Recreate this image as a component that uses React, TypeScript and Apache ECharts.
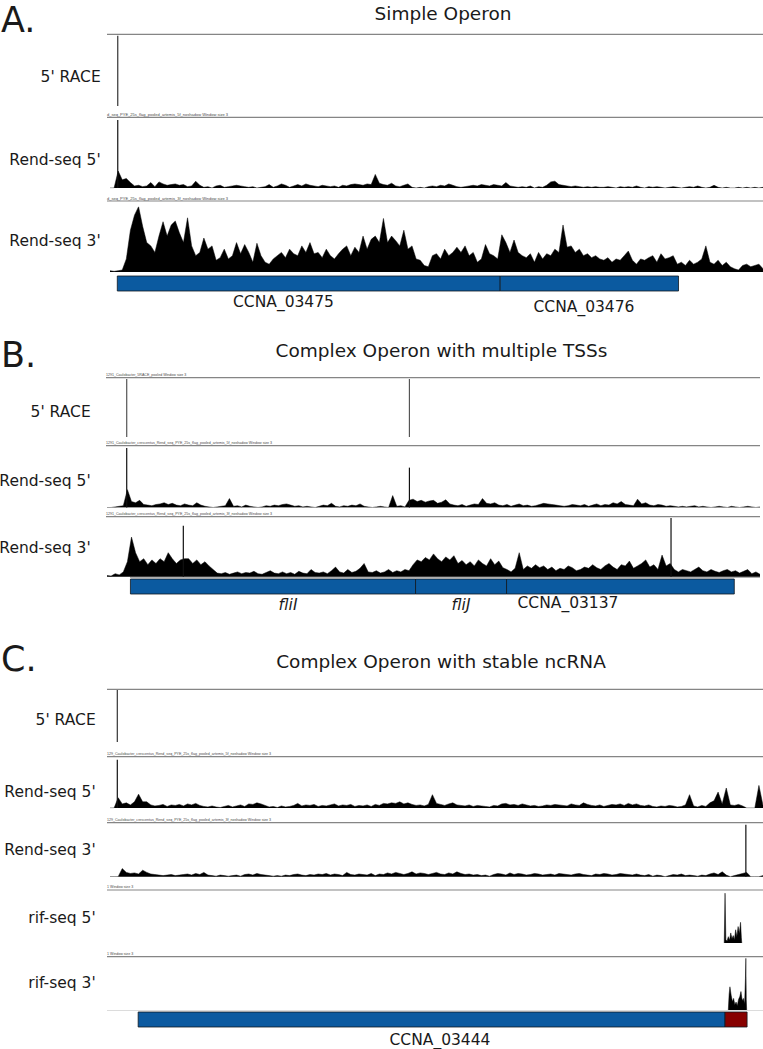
import React, { useEffect, useRef } from "react";
import * as echarts from "echarts";

type Pair = [number, number];

// ---------- Panel A: Simple Operon (161 bins across the track) ----------
const aRaceSpikes: Pair[] = [[1.9, 100]];
const aRend5Spikes: Pair[] = [[1.9, 100]];
const aRend5: number[] = [
  0, 0, 25, 12, 14, 8, 3, 4, 2, 3,
  8, 2, 9, 6, 4, 5, 6, 4, 5, 2,
  3, 10, 4, 1, 2, 0, 3, 4, 1, 2,
  3, 4, 3, 2, 1, 2, 0, 1, 2, 5,
  1, 3, 6, 4, 1, 3, 5, 3, 6, 4,
  3, 2, 4, 3, 2, 3, 1, 4, 3, 5,
  6, 5, 4, 6, 5, 20, 7, 5, 4, 7,
  3, 2, 4, 6, 1, 0, 1, 0, 2, 3,
  2, 4, 3, 6, 4, 2, 1, 2, 3, 4,
  3, 5, 4, 3, 5, 4, 3, 8, 3, 2,
  1, 2, 1, 3, 0, 2, 1, 4, 9, 10,
  5, 4, 3, 2, 3, 2, 1, 2, 1, 2,
  1, 1, 2, 1, 0, 2, 1, 2, 1, 3,
  1, 0, 2, 1, 2, 1, 0, 1, 2, 1,
  0, 1, 2, 1, 3, 1, 0, 1, 4, 1,
  0, 1, 0, 0, 1, 0, 1, 0, 1, 0,
  1,
];
const aRend3: number[] = [
  2, 1, 2, 3, 20, 64, 87, 100, 70, 45,
  40, 30, 55, 77, 55, 72, 78, 60, 45, 83,
  40, 25, 30, 52, 35, 40, 18, 22, 35, 20,
  25, 45, 28, 42, 30, 15, 44, 25, 15, 12,
  20, 25, 30, 22, 35, 28, 25, 40, 30, 45,
  28, 30, 22, 35, 25, 20, 28, 35, 40, 25,
  38, 30, 55, 35, 50, 55, 45, 82, 45, 55,
  48, 40, 64, 35, 40, 20, 18, 10, 8, 25,
  28, 20, 35, 25, 30, 38, 30, 40, 25, 30,
  15, 20, 42, 28, 25, 20, 57, 45, 30, 49,
  30, 25, 22, 28, 15, 30, 20, 28, 25, 35,
  30, 72, 38, 40, 30, 35, 25, 28, 22, 25,
  20, 18, 22, 15, 20, 18, 25, 32, 18, 12,
  20, 18, 22, 25, 15, 28, 20, 22, 25, 12,
  15, 10, 18, 12, 15, 20, 40, 15, 12, 18,
  10, 15, 8, 5, 3, 10, 12, 8, 10, 12,
  5,
];
const aGeneStart = [1.79, 95.6];
const aGeneEnd = [95.6, 139.3];
const aGeneKind = [0, 0];

// ---------- Panel B: Complex Operon with multiple TSSs ----------
const bRaceSpikes: Pair[] = [[4.83, 100], [74.1, 100]];
const bRend5Spikes: Pair[] = [[4.83, 100], [74.1, 67]];
const bRend5: number[] = [
  0, 0, 1, 2, 3, 30, 10, 8, 12, 5,
  4, 3, 5, 6, 8, 5, 7, 4, 3, 6,
  4, 3, 8, 4, 2, 1, 0, 1, 2, 3,
  15, 2, 3, 1, 4, 2, 1, 0, 1, 3,
  2, 4, 3, 5, 6, 4, 2, 3, 1, 2,
  1, 0, 2, 4, 3, 7, 2, 1, 3, 2,
  4, 3, 6, 2, 1, 0, 1, 2, 1, 0,
  20, 2, 3, 1, 12, 14, 10, 12, 9, 11,
  12, 7, 9, 13, 6, 4, 3, 5, 2, 4,
  6, 5, 15, 7, 6, 8, 4, 3, 5, 2,
  4, 6, 3, 4, 2, 3, 5, 7, 6, 5,
  4, 3, 2, 3, 5, 4, 3, 5, 2, 4,
  6, 3, 5, 4, 8, 6, 10, 5, 4, 3,
  14, 6, 8, 4, 3, 5, 4, 2, 3, 2,
  1, 2, 1, 2, 3, 1, 2, 1, 0, 1,
  2, 1, 0, 2, 1, 0, 1, 2, 1, 0,
  1,
];
const bRend3Spikes: Pair[] = [[18.7, 85], [138.2, 98]];
const bRend3: number[] = [
  2, 1, 5, 3, 8, 25, 66, 40, 25, 30,
  20, 28, 22, 30, 25, 40, 30, 22, 28, 30,
  30, 22, 28, 20, 25, 18, 12, 6, 5, 7,
  4, 6, 8, 5, 7, 6, 9, 5, 4, 7,
  10, 6, 5, 8, 5, 7, 4, 9, 6, 5,
  12, 7, 6, 8, 5, 10, 16, 8, 6, 12,
  7, 9, 14, 22, 8, 7, 10, 6, 8, 12,
  7, 10, 8, 12, 10, 20, 28, 25, 32, 28,
  38, 30, 25, 33, 28, 35, 22, 27, 20, 25,
  18, 28, 22, 18, 30, 20, 26, 15, 12, 8,
  14, 40, 12, 18, 14, 20, 15, 18, 12, 16,
  10, 14, 12, 18, 15, 10, 12, 16, 14, 20,
  15, 12, 18, 22, 16, 12, 20, 18, 26, 14,
  18, 22, 28, 16, 20, 12, 36, 18, 22, 12,
  8, 12, 10, 8, 12, 16, 10, 8, 12, 9,
  7, 10, 12, 8, 10, 6, 9, 12, 5, 8,
  4,
];
const bGeneStart = [5.74, 75.6, 97.9];
const bGeneEnd = [75.6, 97.9, 153.7];
const bGeneKind = [0, 0, 0];

// ---------- Panel C: Complex Operon with stable ncRNA ----------
const cRaceSpikes: Pair[] = [[1.79, 100]];
const cRend5Spikes: Pair[] = [[1.79, 94]];
const cRend5: number[] = [
  0, 0, 20, 8, 10, 6, 12, 27, 12, 12,
  6, 4, 5, 7, 3, 6, 5, 7, 4, 8,
  6, 9, 5, 3, 2, 4, 2, 1, 3, 5,
  2, 4, 6, 3, 8, 7, 10, 8, 5, 2,
  3, 1, 4, 2, 3, 5, 9, 4, 6, 5,
  7, 3, 5, 4, 6, 8, 4, 6, 5, 7,
  3, 5, 4, 6, 3, 7, 5, 9, 8, 10,
  9, 12, 8, 10, 7, 5, 6, 4, 7, 26,
  9, 7, 5, 8, 10, 6, 5, 4, 6, 3,
  5, 4, 3, 2, 5, 4, 8, 9, 6, 7,
  5, 8, 6, 4, 5, 3, 4, 6, 5, 7,
  6, 5, 4, 8, 6, 5, 10, 7, 5, 4,
  6, 3, 5, 7, 6, 8, 5, 9, 6, 8,
  5, 4, 6, 3, 2, 4, 3, 5, 4, 2,
  3, 6, 26, 4, 2, 5, 3, 10, 14, 31,
  8, 39, 6, 5, 7, 4, 0, 0, 0, 44,
  5,
];
const cRend3Spikes: Pair[] = [[155.8, 96]];
const cRend3: number[] = [
  0, 0, 0, 15, 8, 6, 7, 5, 12, 8,
  5, 4, 3, 2, 3, 4, 2, 3, 4, 5,
  3, 6, 4, 8, 3, 2, 1, 3, 2, 1,
  2, 3, 1, 4, 5, 3, 6, 4, 3, 2,
  1, 2, 1, 3, 2, 4, 5, 3, 2, 4,
  3, 5, 4, 6, 3, 5, 4, 2, 8, 4,
  3, 5, 4, 3, 6, 2, 5, 4, 7, 5,
  8, 6, 4, 6, 9, 5, 7, 6, 4, 6,
  8, 5, 4, 7, 5, 9, 6, 4, 5, 3,
  4, 2, 3, 1, 4, 6, 5, 3, 7, 4,
  6, 5, 3, 4, 6, 5, 3, 4, 5, 3,
  6, 5, 4, 3, 5, 6, 4, 3, 2, 5,
  4, 6, 5, 3, 4, 6, 5, 4, 3, 5,
  3, 2, 4, 1, 3, 2, 0, 2, 4, 3,
  5, 2, 3, 2, 1, 3, 2, 5, 7, 4,
  9, 3, 0, 2, 4, 6, 8, 0, 0, 0,
  2,
];
const cRif5: Pair[] = [
  [150.5, 0], [150.7, 94], [150.9, 6], [151.2, 4], [151.5, 12], [151.8, 5],
  [152.1, 19], [152.4, 8], [152.7, 14], [153.0, 6], [153.3, 25], [153.6, 12],
  [153.9, 31], [154.2, 18], [154.5, 39], [154.7, 10], [154.8, 0],
];
const cRif3: Pair[] = [
  [151.5, 0], [151.7, 30], [151.9, 44], [152.2, 28], [152.5, 16], [152.8, 22],
  [153.1, 10], [153.4, 15], [153.7, 8], [154.0, 20], [154.3, 25], [154.6, 35],
  [154.9, 18], [155.2, 22], [155.5, 12], [155.7, 60], [155.8, 98], [155.9, 20], [156.0, 0],
];
const cGeneStart = [6.9, 150.7];
const cGeneEnd = [150.7, 156.1];
const cGeneKind = [0, 1];

// ---------- text ----------
const panelLetters = ["A.", "B.", "C."];
const panelTitles = [
  "Simple Operon",
  "Complex Operon with multiple TSSs",
  "Complex Operon with stable ncRNA",
];
const aTrackNames = ["5' RACE", "Rend-seq 5'", "Rend-seq 3'"];
const bTrackNames = ["5' RACE", "Rend-seq 5'", "Rend-seq 3'"];
const cTrackNames = ["5' RACE", "Rend-seq 5'", "Rend-seq 3'", "rif-seq 5'", "rif-seq 3'"];
const aGeneNames = ["CCNA_03475", "CCNA_03476"];
const bGeneNames = ["fliI", "fliJ", "CCNA_03137"];
const cGeneNames = ["CCNA_03444"];
const aCaptions = [
  "d_seq_PYE_25s_flag_pooled_artemis_5f_noshadow Window size 3",
  "d_seq_PYE_25s_flag_pooled_artemis_3f_noshadow Window size 3",
];
const bCaptions = [
  "1291_Caulobacter_5RACE_pooled Window size 3",
  "1291_Caulobacter_crescentus_Rend_seq_PYE_25s_flag_pooled_artemis_5f_noshadow Window size 3",
  "1291_Caulobacter_crescentus_Rend_seq_PYE_25s_flag_pooled_artemis_3f_noshadow Window size 3",
];
const cCaptions = [
  "129_Caulobacter_crescentus_Rend_seq_PYE_25s_flag_pooled_artemis_5f_noshadow Window size 3",
  "129_Caulobacter_crescentus_Rend_seq_PYE_25s_flag_pooled_artemis_3f_noshadow Window size 3",
  "1 Window size 3",
  "1 Window size 3",
];

const FONT = "DejaVu Sans";
const NMAX = 160;
const TRACK_W = 653;

interface TrackDef {
  left: number;
  top: number;
  base: number;
  dense?: number[];
  pairs?: Pair[];
  spikes?: Pair[];
  spikeColor?: string;
}
interface GeneDef {
  left: number;
  top: number;
  height: number;
  start: number[];
  end: number[];
  kind: number[];
}

function buildOption(): any {
  const tracks: TrackDef[] = [
    { left: 110, top: 35.7, base: 106, spikes: aRaceSpikes, spikeColor: "#333" },
    { left: 110, top: 120, base: 188, dense: aRend5, spikes: aRend5Spikes },
    { left: 110, top: 206.7, base: 272, dense: aRend3 },
    { left: 107, top: 379, base: 437, spikes: bRaceSpikes, spikeColor: "#555" },
    { left: 107, top: 448, base: 507.5, dense: bRend5, spikes: bRend5Spikes },
    { left: 107, top: 516.7, base: 576.7, dense: bRend3, spikes: bRend3Spikes },
    { left: 110, top: 690, base: 742, spikes: cRaceSpikes, spikeColor: "#333" },
    { left: 110, top: 756.7, base: 808, dense: cRend5, spikes: cRend5Spikes },
    { left: 110, top: 822.7, base: 876.7, dense: cRend3, spikes: cRend3Spikes },
    { left: 110, top: 890, base: 943, pairs: cRif5 },
    { left: 110, top: 957.3, base: 1010, pairs: cRif3 },
  ];
  const genes: GeneDef[] = [
    { left: 110, top: 276, height: 15, start: aGeneStart, end: aGeneEnd, kind: aGeneKind },
    { left: 107, top: 579, height: 15, start: bGeneStart, end: bGeneEnd, kind: bGeneKind },
    { left: 110, top: 1012, height: 15, start: cGeneStart, end: cGeneEnd, kind: cGeneKind },
  ];

  const grid: any[] = [];
  const xAxis: any[] = [];
  const yAxis: any[] = [];
  const series: any[] = [];

  tracks.forEach((t, i) => {
    grid.push({ left: t.left, top: t.top, width: TRACK_W, height: t.base - t.top });
    xAxis.push({ type: "value", gridIndex: i, min: 0, max: NMAX, show: false });
    yAxis.push({ type: "value", gridIndex: i, min: 0, max: 100, show: false });
    const lineData = t.dense ? t.dense.map((v, k) => [k, v]) : t.pairs ? t.pairs : null;
    if (lineData) {
      series.push({
        type: "line",
        xAxisIndex: i,
        yAxisIndex: i,
        data: lineData,
        symbol: "none",
        silent: true,
        lineStyle: { color: "#000", width: 0.5 },
        areaStyle: { color: "#000", opacity: 1 },
        z: 2,
      });
    }
    if (t.spikes) {
      series.push({
        type: "bar",
        xAxisIndex: i,
        yAxisIndex: i,
        data: t.spikes,
        barWidth: 1.2,
        silent: true,
        itemStyle: { color: t.spikeColor || "#111" },
        z: 3,
      });
    }
  });

  genes.forEach((g, j) => {
    const gi = tracks.length + j;
    grid.push({ left: g.left, top: g.top, width: TRACK_W, height: g.height });
    xAxis.push({ type: "value", gridIndex: gi, min: 0, max: NMAX, show: false });
    yAxis.push({ type: "value", gridIndex: gi, min: 0, max: 1, show: false });
    series.push({
      type: "custom",
      xAxisIndex: gi,
      yAxisIndex: gi,
      silent: true,
      data: g.start.map((s, k) => [s, g.end[k], g.kind[k]]),
      encode: { x: [0, 1] },
      renderItem: (_p: any, api: any) => {
        const a = api.coord([api.value(0), 1]);
        const b = api.coord([api.value(1), 0]);
        return {
          type: "rect",
          shape: { x: a[0], y: a[1], width: b[0] - a[0], height: b[1] - a[1] },
          style: {
            fill: api.value(2) === 1 ? "#870000" : "#0b5aa0",
            stroke: "#101820",
            lineWidth: 0.8,
          },
        };
      },
      z: 2,
    });
  });

  const graphic: any[] = [];
  const hline = (x1: number, x2: number, y: number, stroke = "#858585", w = 1.2) =>
    graphic.push({ type: "line", silent: true, shape: { x1, y1: y, x2, y2: y }, style: { stroke, lineWidth: w } });
  const text = (x: number, y: number, t: string, o: any = {}) =>
    graphic.push({
      type: "text",
      silent: true,
      x,
      y,
      style: {
        text: t,
        fontSize: 15.5,
        fontFamily: FONT,
        fill: "#1a1a1a",
        align: "left",
        verticalAlign: "middle",
        ...o,
      },
    });

  // separator lines
  [34.3, 117.3, 201].forEach((y) => hline(107, 763, y));
  [377.7, 445.7, 516.7].forEach((y) => hline(106, 760, y));
  [689.3, 756.7, 822.7, 890, 956.7].forEach((y) => hline(107, 763, y));
  hline(130, 760, 577.3, "#9a9a9a", 1);
  hline(107, 763, 1010.5, "#dcdcdc", 1);

  // captions above separator lines
  const cap = (x: number, y: number, t: string, fs: number) =>
    text(x, y, t, { fontSize: fs, fontFamily: "Liberation Sans", fill: "#4a4a4a", verticalAlign: "bottom" });
  cap(107, 116.5, aCaptions[0], 4);
  cap(107, 200.2, aCaptions[1], 4);
  cap(106, 377, bCaptions[0], 3.6);
  cap(106, 445, bCaptions[1], 3.6);
  cap(106, 516, bCaptions[2], 3.6);
  cap(107, 756, cCaptions[0], 3.6);
  cap(107, 822, cCaptions[1], 3.6);
  cap(107, 889.3, cCaptions[2], 3.6);
  cap(107, 956, cCaptions[3], 3.6);

  // panel letters and titles
  text(1, 20, panelLetters[0], { fontSize: 35 });
  text(1, 355, panelLetters[1], { fontSize: 35 });
  text(1, 659, panelLetters[2], { fontSize: 35 });
  text(443, 13.5, panelTitles[0], { fontSize: 18.5, align: "center" });
  text(441.5, 350, panelTitles[1], { fontSize: 18.5, align: "center" });
  text(441, 661, panelTitles[2], { fontSize: 18.5, align: "center" });

  // track names
  [76.7, 160, 240.7].forEach((y, k) => text(100.7, y, aTrackNames[k], { align: "right" }));
  [412, 480.7, 548].forEach((y, k) => text(90.7, y, bTrackNames[k], { align: "right" }));
  [720, 791.7, 850, 917.7, 983].forEach((y, k) => text(95.7, y, cTrackNames[k], { align: "right" }));

  // gene names
  text(283.5, 302, aGeneNames[0], { align: "center" });
  text(584, 307, aGeneNames[1], { align: "center" });
  text(288, 605, bGeneNames[0], { align: "center", fontStyle: "italic" });
  text(461, 605, bGeneNames[1], { align: "center", fontStyle: "italic" });
  text(568, 603, bGeneNames[2], { align: "center" });
  text(440, 1040, cGeneNames[0], { align: "center" });

  return {
    animation: false,
    backgroundColor: "#ffffff",
    grid,
    xAxis,
    yAxis,
    series,
    graphic,
  };
}

export default function App() {
  const ref = useRef<HTMLDivElement>(null);
  useEffect(() => {
    if (!ref.current) return;
    const chart = echarts.init(ref.current, null, { renderer: "svg" });
    chart.setOption(buildOption());
    return () => chart.dispose();
  }, []);
  return (
    <div
      ref={ref}
      style={{ position: "absolute", left: 0, top: 0, width: 763, height: 1049, background: "#fff" }}
    />
  );
}
